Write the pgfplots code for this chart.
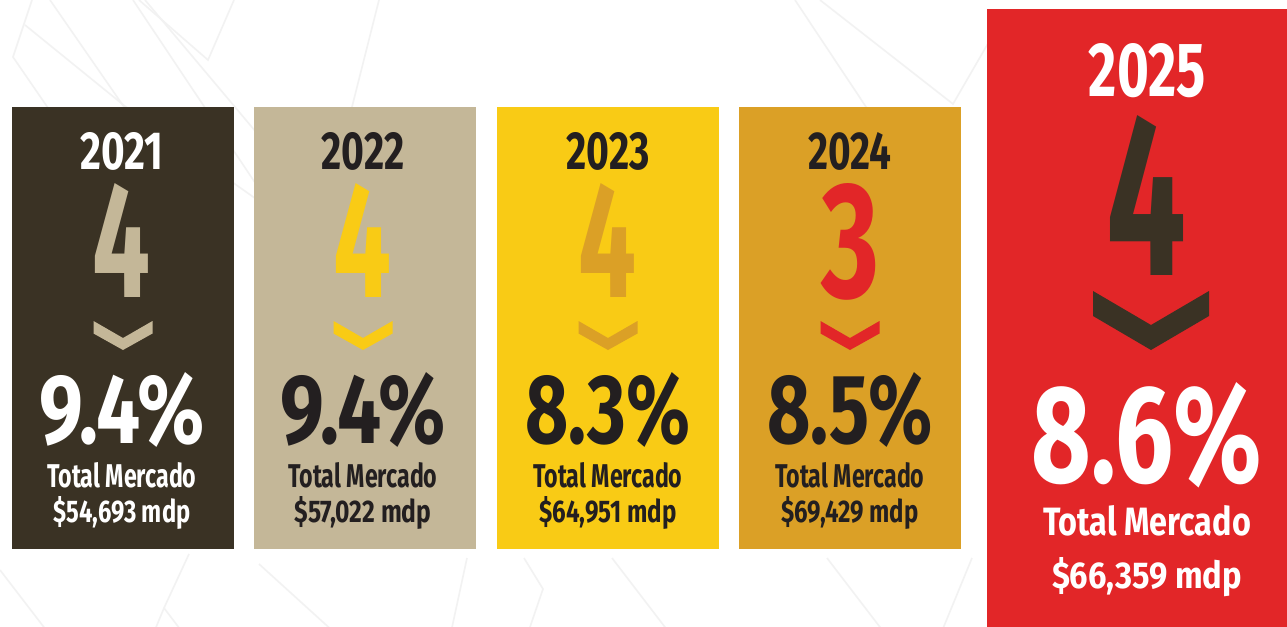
\documentclass[border=0pt]{standalone}
\usepackage{pgfplots}
\pgfplotsset{compat=1.18}
\usepackage{fontspec}
\setmainfont{Fira Sans}

\definecolor{cBrown}{HTML}{3A3224}
\definecolor{cBeige}{HTML}{C4B798}
\definecolor{cYellow}{HTML}{F9CB15}
\definecolor{cGold}{HTML}{DBA026}
\definecolor{cRed}{HTML}{E22628}
\definecolor{cInk}{HTML}{231F20}
\definecolor{cLine}{HTML}{F2F2F2}

% 1 px of the reference = 0.5pt
\newlength{\pxu}\setlength{\pxu}{0.5pt}
\newcommand{\fit}[3]{\resizebox{#1\pxu}{#2\pxu}{#3}}

% small panel texts: cx, year, digit, pct, amount, text colour, accent colour
\newcommand{\smalltexts}[7]{%
  \node[anchor=base, inner sep=0, text=#6] at (axis cs:#1,169) {\fit{83}{37}{\bfseries #2}};
  \node[anchor=base, inner sep=0, text=#7] at (axis cs:#1,297) {\fit{58}{114}{\bfseries #3}};
  \node[anchor=base, inner sep=0, text=#6] at (axis cs:#1,443) {\fit{165}{71}{\bfseries #4\%}};
  \node[anchor=base, inner sep=0, text=#6] at (axis cs:#1,487) {\fit{149}{25}{\bfseries Total Mercado}};
  \node[anchor=base, inner sep=0, text=#6] at (axis cs:#1,522) {\fit{137}{26}{\bfseries \$#5 mdp}};
}

\begin{document}
\begin{tikzpicture}
\begin{axis}[
  width=643.5pt, height=313.5pt, scale only axis,
  xmin=0, xmax=1287, ymin=0, ymax=627, y dir=reverse,
  hide axis, clip=true,
]
% background
\addplot[fill=white, draw=none] coordinates {(0,0) (1287,0) (1287,627) (0,627)};

% faint background lines
\addplot[draw=cLine, line width=0.8pt] coordinates {(32,0) (13,57) (180,300)};
\addplot[draw=cLine, line width=0.8pt] coordinates {(50,0) (230,260)};
\addplot[draw=cLine, line width=0.8pt] coordinates {(133,0) (300,250)};
\addplot[draw=cLine, line width=0.8pt] coordinates {(145,0) (330,220)};
\addplot[draw=cLine, line width=0.8pt] coordinates {(139,0) (208,60) (234,0)};
\addplot[draw=cLine, line width=0.8pt] coordinates {(25,25) (126,107) (300,230)};
\addplot[draw=cLine, line width=0.8pt] coordinates {(379,0) (328,202)};
\addplot[draw=cLine, line width=0.8pt] coordinates {(795,0) (896,152)};
\addplot[draw=cLine, line width=0.8pt] coordinates {(820,0) (953,104) (990,40)};
\addplot[draw=cLine, line width=0.8pt] coordinates {(0,570) (63,652)};
\addplot[draw=cLine, line width=0.8pt] coordinates {(189,554) (164,608) (126,700)};
\addplot[draw=cLine, line width=0.8pt] coordinates {(164,608) (234,700)};
\addplot[draw=cLine, line width=0.8pt] coordinates {(259,564) (335,633) (388,640) (366,700)};
\addplot[draw=cLine, line width=0.8pt] coordinates {(335,633) (328,662)};
\addplot[draw=cLine, line width=0.8pt] coordinates {(467,558) (448,646) (499,700)};
\addplot[draw=cLine, line width=0.8pt] coordinates {(524,558) (543,589) (530,627)};
\addplot[draw=cLine, line width=0.8pt] coordinates {(612,558) (694,665)};
\addplot[draw=cLine, line width=0.8pt] coordinates {(827,558) (909,665) (931,678)};
\addplot[draw=cLine, line width=0.8pt] coordinates {(972,558) (928,665)};

% panels
\addplot[fill=cBrown, draw=none]  coordinates {(12,107) (234,107) (234,549) (12,549)};
\addplot[fill=cBeige, draw=none]  coordinates {(254,107) (476,107) (476,549) (254,549)};
\addplot[fill=cYellow, draw=none] coordinates {(497,107) (719,107) (719,549) (497,549)};
\addplot[fill=cGold, draw=none]   coordinates {(739,107) (961,107) (961,549) (739,549)};
\addplot[fill=cRed, draw=none]    coordinates {(987,9) (1287,9) (1287,627) (987,627)};

% chevrons
\addplot[fill=cBeige, draw=none]  coordinates {(93.5,321) (123,338) (152.5,321) (152.5,333.5) (123,350) (93.5,333.5)};
\addplot[fill=cYellow, draw=none] coordinates {(333.5,321) (363,338) (392.5,321) (392.5,333.5) (363,350) (333.5,333.5)};
\addplot[fill=cGold, draw=none]   coordinates {(578.5,321) (608,338) (637.5,321) (637.5,333.5) (608,350) (578.5,333.5)};
\addplot[fill=cRed, draw=none]    coordinates {(820.5,321) (850,338) (879.5,321) (879.5,333.5) (850,350) (820.5,333.5)};
\addplot[fill=cBrown, draw=none]  coordinates {(1093,291) (1151,325) (1209,291) (1209,316) (1151,350) (1093,316)};

% texts
\smalltexts{122}{2021}{4}{9.4}{54,693}{white}{cBeige}
\smalltexts{363}{2022}{4}{9.4}{57,022}{cInk}{cYellow}
\smalltexts{608}{2023}{4}{8.3}{64,951}{cInk}{cGold}
\smalltexts{850}{2024}{3}{8.5}{69,429}{cInk}{cRed}

\node[anchor=base, inner sep=0, text=white]  at (axis cs:1147.5,96) {\fit{117}{53}{\bfseries 2025}};
\node[anchor=base, inner sep=0, text=cBrown] at (axis cs:1147,275) {\fit{80}{160}{\bfseries 4}};
\node[anchor=base, inner sep=0, text=white]  at (axis cs:1147,482) {\fit{230}{100}{\bfseries 8.6\%}};
\node[anchor=base, inner sep=0, text=white]  at (axis cs:1147,535) {\fit{208}{30}{\bfseries Total Mercado}};
\node[anchor=base, inner sep=0, text=white]  at (axis cs:1147,588) {\fit{190}{31}{\bfseries \$66,359 mdp}};
\end{axis}
\end{tikzpicture}
\end{document}
